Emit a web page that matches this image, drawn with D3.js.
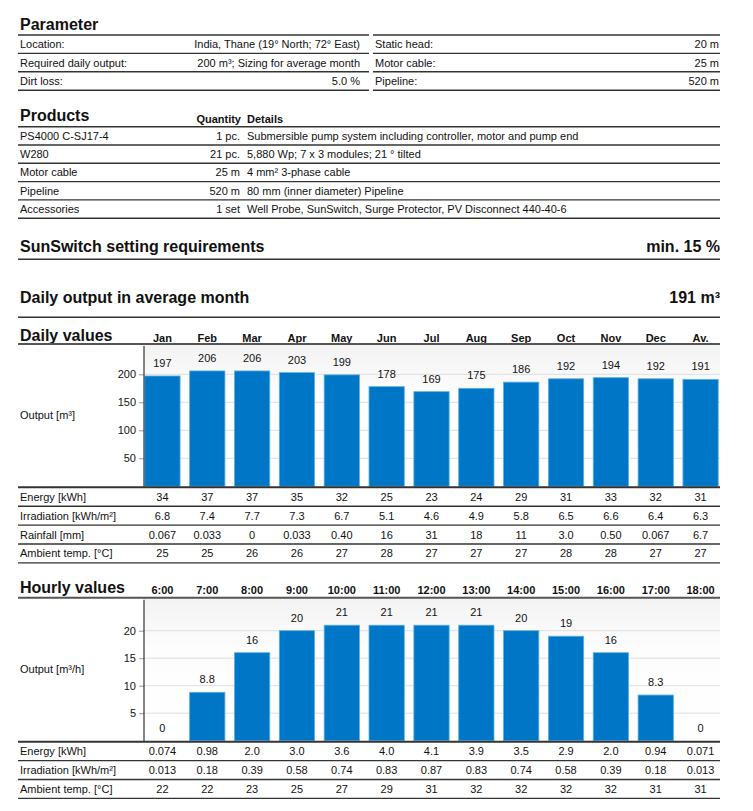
<!DOCTYPE html>
<html>
<head>
<meta charset="utf-8">
<script src="https://cdn.jsdelivr.net/npm/d3@7"></script>
<style>
  body { margin:0; background:#fff; }
  text { font-family: "Liberation Sans", Arial, sans-serif; fill:#111; }
</style>
</head>
<body>
<svg id="page" width="753" height="811"></svg>
<script>
// ---- data ----
var paramLeft = [["Location:", "India, Thane (19° North; 72° East)"],
                 ["Required daily output:", "200 m³; Sizing for average month"],
                 ["Dirt loss:", "5.0 %"]];
var paramRight = [["Static head:", "20 m"], ["Motor cable:", "25 m"], ["Pipeline:", "520 m"]];

var products = [["PS4000 C-SJ17-4", "1 pc.", "Submersible pump system including controller, motor and pump end"],
                ["W280", "21 pc.", "5,880 Wp; 7 x 3 modules; 21 ° tilted"],
                ["Motor cable", "25 m", "4 mm² 3-phase cable"],
                ["Pipeline", "520 m", "80 mm (inner diameter) Pipeline"],
                ["Accessories", "1 set", "Well Probe, SunSwitch, Surge Protector, PV Disconnect 440-40-6"]];

var months = ["Jan","Feb","Mar","Apr","May","Jun","Jul","Aug","Sep","Oct","Nov","Dec","Av."];
var dailyOutput = [197,206,206,203,199,178,169,175,186,192,194,192,191];
var dailyEnergy = ["34","37","37","35","32","25","23","24","29","31","33","32","31"];
var dailyIrr = ["6.8","7.4","7.7","7.3","6.7","5.1","4.6","4.9","5.8","6.5","6.6","6.4","6.3"];
var dailyRain = ["0.067","0.033","0","0.033","0.40","16","31","18","11","3.0","0.50","0.067","6.7"];
var dailyTemp = ["25","25","26","26","27","28","27","27","27","28","28","27","27"];
var dailyTicks = [50,100,150,200];

var hours = ["6:00","7:00","8:00","9:00","10:00","11:00","12:00","13:00","14:00","15:00","16:00","17:00","18:00"];
var hourlyOutput = [0,8.8,16,20,21,21,21,21,20,19,16,8.3,0];
var hourlyEnergy = ["0.074","0.98","2.0","3.0","3.6","4.0","4.1","3.9","3.5","2.9","2.0","0.94","0.071"];
var hourlyIrr = ["0.013","0.18","0.39","0.58","0.74","0.83","0.87","0.83","0.74","0.58","0.39","0.18","0.013"];
var hourlyTemp = ["22","22","23","25","27","29","31","32","32","32","32","31","31"];
var hourlyTicks = [5,10,15,20];

// ---- helpers ----
var svg = d3.select("#page");
var L = 18, R = 720;
var barFill = "#0077c6", barEdge = "#5fb0e4";

var defs = svg.append("defs");
var grad = defs.append("linearGradient").attr("id","plotbg").attr("x1",0).attr("y1",0).attr("x2",0).attr("y2",1);
grad.append("stop").attr("offset","0%").attr("stop-color","#f3f3f3");
grad.append("stop").attr("offset","35%").attr("stop-color","#fdfdfd");
grad.append("stop").attr("offset","100%").attr("stop-color","#ffffff");

function hline(y, x1, x2, w, c) {
  svg.append("line").attr("x1",x1).attr("x2",x2).attr("y1",y).attr("y2",y)
    .attr("stroke", c || "#333").attr("stroke-width", w || 1.4);
}
function txt(x, y, s, opts) {
  opts = opts || {};
  return svg.append("text").attr("x",x).attr("y",y).text(s)
    .attr("text-anchor", opts.anchor || "start")
    .attr("font-size", opts.size || 11)
    .attr("font-weight", opts.bold ? "bold" : "normal");
}

// ---- Parameter ----
txt(20, 30, "Parameter", {size:16, bold:true});
var pTop = 35, pH = 18.4;
hline(pTop, L, 369); hline(pTop, 373, R);
paramLeft.forEach(function(r, i) {
  var cy = pTop + pH*i + pH/2 + 4;
  txt(20, cy, r[0]); txt(360, cy, r[1], {anchor:"end"});
  hline(pTop + pH*(i+1), L, 369);
});
paramRight.forEach(function(r, i) {
  var cy = pTop + pH*i + pH/2 + 4;
  txt(375, cy, r[0]); txt(719, cy, r[1], {anchor:"end"});
  hline(pTop + pH*(i+1), 373, R);
});

// ---- Products ----
txt(20, 121, "Products", {size:16, bold:true});
txt(241, 123, "Quantity", {anchor:"end", bold:true, size:11});
txt(247, 123, "Details", {bold:true, size:11});
var prTop = 126.7, prH = 18.3;
hline(prTop, L, R);
products.forEach(function(r, i) {
  var cy = prTop + prH*i + prH/2 + 4;
  txt(20, cy, r[0]); txt(240, cy, r[1], {anchor:"end"}); txt(247, cy, r[2]);
  hline(prTop + prH*(i+1), L, R);
});

// ---- headings ----
txt(20, 252, "SunSwitch setting requirements", {size:16, bold:true});
txt(720, 252, "min. 15 %", {size:16, bold:true, anchor:"end"});
hline(259.3, L, R);
txt(20, 303, "Daily output in average month", {size:16, bold:true});
txt(720, 303, "191 m³", {size:16, bold:true, anchor:"end"});
hline(317.3, L, R);

// ---- chart + table block ----
function block(cfg) {
  var x = d3.scaleBand().domain(cfg.cats).range([140, 723]).paddingInner(0.213).paddingOuter(0.1065);
  var y = d3.scaleLinear().domain([0, cfg.max]).range([cfg.bottom, cfg.top]);

  txt(20, cfg.headY, cfg.title, {size:16, bold:true});
  cfg.cats.forEach(function(c) {
    txt(x(c) + x.bandwidth()/2, cfg.headY + 1, c, {bold:true, size:11, anchor:"middle"});
  });

  svg.append("rect").attr("x",144).attr("y",cfg.lineY).attr("width",R-144).attr("height",cfg.bottom-cfg.lineY)
    .attr("fill","url(#plotbg)");

  var g = svg.append("g");
  g.selectAll("line.grid").data(cfg.ticks).enter().append("line")
    .attr("x1",144).attr("x2",R).attr("y1",function(d){return y(d);}).attr("y2",function(d){return y(d);})
    .attr("stroke","#dedede").attr("stroke-width",1);

  hline(cfg.lineY, L, R, 2, "#555");

  g.selectAll("rect.bar").data(cfg.values).enter().append("rect")
    .attr("x", function(d,i){return x(cfg.cats[i]);})
    .attr("y", function(d){return y(d);})
    .attr("width", x.bandwidth())
    .attr("height", function(d){return cfg.bottom - y(d);})
    .attr("fill", barFill).attr("stroke", barEdge).attr("stroke-width", 0.8);

  g.selectAll("text.val").data(cfg.values).enter().append("text")
    .attr("x", function(d,i){return x(cfg.cats[i]) + x.bandwidth()/2;})
    .attr("y", function(d){return y(d) - 9;})
    .attr("text-anchor","middle").attr("font-size",11)
    .text(function(d,i){return cfg.labels[i];});

  var ax = svg.append("g").attr("transform","translate(144,0)")
    .call(d3.axisLeft(y).tickValues(cfg.ticks).tickSize(5).tickPadding(3).tickSizeOuter(0));
  ax.select(".domain").remove();
  ax.selectAll(".tick line").attr("stroke","#999");
  ax.selectAll(".tick text").attr("font-size",11).attr("fill","#111")
    .attr("font-family","'Liberation Sans', Arial, sans-serif");
  svg.append("line").attr("x1",144).attr("x2",144).attr("y1",cfg.lineY+2).attr("y2",cfg.bottom+1)
    .attr("stroke","#333").attr("stroke-width",1.2);

  txt(20, (cfg.lineY + cfg.bottom)/2 + 4, cfg.yLabel);

  var rTop = cfg.bottom + 1, rH = 18.9;
  hline(rTop, L, R, 2, "#333");
  cfg.rows.forEach(function(r, i) {
    var cy = rTop + rH*i + rH/2 + 4;
    txt(20, cy, r[0]);
    r[1].forEach(function(v, j) {
      txt(x(cfg.cats[j]) + x.bandwidth()/2, cy, v, {anchor:"middle"});
    });
    hline(rTop + rH*(i+1), L, R);
  });
}

block({
  title:"Daily values", cats:months, values:dailyOutput, labels:dailyOutput.map(String),
  ticks:dailyTicks, max:250, headY:341, lineY:344, top:346.3, bottom:486.3,
  yLabel:"Output [m³]",
  rows:[["Energy [kWh]", dailyEnergy], ["Irradiation [kWh/m²]", dailyIrr],
        ["Rainfall [mm]", dailyRain], ["Ambient temp. [°C]", dailyTemp]]
});

block({
  title:"Hourly values", cats:hours, values:hourlyOutput, labels:hourlyOutput.map(String),
  ticks:hourlyTicks, max:25, headY:593, lineY:597.7, top:603.2, bottom:740.7,
  yLabel:"Output [m³/h]",
  rows:[["Energy [kWh]", hourlyEnergy], ["Irradiation [kWh/m²]", hourlyIrr],
        ["Ambient temp. [°C]", hourlyTemp]]
});
</script>
</body>
</html>
